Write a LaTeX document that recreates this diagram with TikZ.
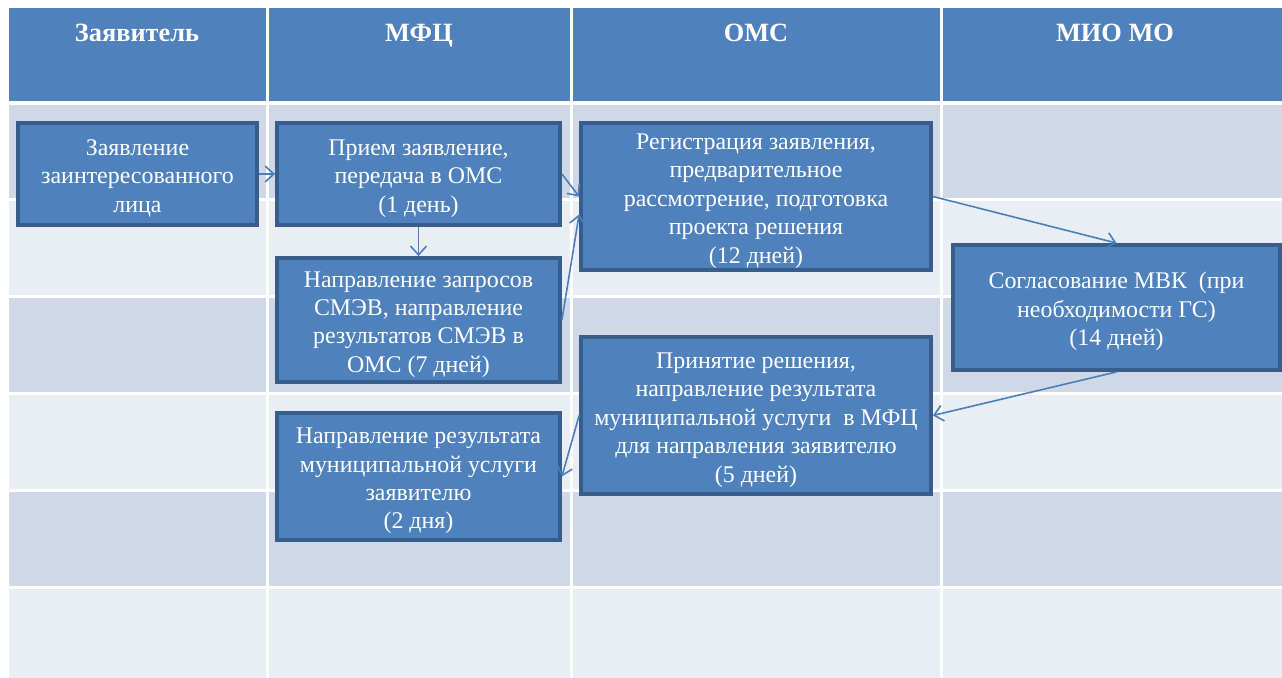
\documentclass[tikz,border=0pt]{standalone}
\usepackage{fontspec}
\setmainfont{Liberation Serif}
\usetikzlibrary{
    arrows.meta,
    positioning,
    calc
}
\definecolor{headcol}{HTML}{4F81BD}
\definecolor{darkrow}{HTML}{D0D8E8}
\definecolor{lightrow}{HTML}{E9EDF4}
\definecolor{stagecol}{HTML}{4F81BD}
\definecolor{stageline}{HTML}{385D8A}
\definecolor{arrcol}{HTML}{4A7EBB}
\newcommand{\firstline}{\rule{0pt}{14pt}}

\begin{document}
\begin{tikzpicture}[
    x=0.02cm, y=-0.02cm,
    % ── Node Styles ──
    stage/.style={
        draw=stageline, line width=2.2pt, fill=stagecol,
        text=white, align=center, inner xsep=2pt, inner ysep=0pt,
        font=\fontsize{13.6}{16.2}\selectfont
    },
    lane/.style={
        text=white, anchor=base, font=\bfseries\fontsize{15}{18}\selectfont
    },
    % ── Arrow Styles ──
    arr/.style={-{Straight Barb[length=5pt, width=9pt]}, arrcol, line width=0.9pt},
]
\useasboundingbox (0,0) rectangle (1282,678);

% ────────────────────────────────
%  TABLE
% ────────────────────────────────
\fill[white] (0,0) rectangle (1282,678);
\foreach \xl/\xr in {7/267, 267/571, 571/941, 941/1284}
    \fill[headcol] (\xl+1.5,8) rectangle (\xr-1.5,101);
\foreach \yt/\yb/\rowcol in {104/200/darkrow, 200/297/lightrow,
        297/394/darkrow, 394/491/lightrow, 491/588/darkrow, 588/682/lightrow}
    \foreach \xl/\xr in {7/267, 267/571, 571/941, 941/1284}
        \fill[\rowcol] (\xl+1.5,\yt+1.5) rectangle (\xr-1.5,\yb-1.5);

% Lane titles
\node[lane] (l_zv)  at (137,42)  {Заявитель};
\node[lane] (l_mfc) at (419,42)  {МФЦ};
\node[lane] (l_oms) at (756,42)  {ОМС};
\node[lane] (l_mio) at (1115,42) {МИО МО};

% ────────────────────────────────
%  STAGES
% ────────────────────────────────
\node[stage, minimum width=4.78cm, minimum height=2.04cm] (zv) at (137.5,174) {
    \firstline Заявление\\заинтересованного\\лица
};
\node[stage, minimum width=5.66cm, minimum height=2.04cm] (priem) at (418.5,174) {
    \firstline Прием заявление,\\передача в ОМС\\(1 день)
};
\node[stage, minimum width=5.66cm, minimum height=2.48cm] (smev) at (418.5,320) {
    \firstline Направление запросов\\СМЭВ, направление\\результатов СМЭВ в\\ОМС (7 дней)
};
\node[stage, minimum width=7.0cm, minimum height=2.94cm] (reg) at (756,196.5) {
    \firstline Регистрация заявления,\\предварительное\\рассмотрение, подготовка\\проекта решения\\(12 дней)
};
\node[stage, minimum width=6.54cm, minimum height=2.5cm] (mvk) at (1116.5,307.5) {
    \firstline Согласование МВК\ \ (при\\необходимости ГС)\\(14 дней)
};
\node[stage, minimum width=7.0cm, minimum height=3.14cm] (reshen) at (756,415.5) {
    \firstline Принятие решения,\\направление результата\\муниципальной услуги\ \ в МФЦ\\для направления заявителю\\(5 дней)
};
\node[stage, minimum width=5.66cm, minimum height=2.54cm] (itog) at (418.5,476.5) {
    \firstline Направление результата\\муниципальной услуги\\заявителю\\(2 дня)
};

% ────────────────────────────────
%  FLOW
% ────────────────────────────────
\draw[arr] (zv) -- (priem);
\draw[arr] (priem) -- (smev);
\draw[arr] (priem.east) -- (reg.west);
\draw[arr] (smev.east) -- ($(reg.west)+(0,18)$);
\draw[arr] (reg.east) -- (mvk.north);
\draw[arr] (mvk.south) -- (reshen.east);
\draw[arr] (reshen.west) -- (itog.east);

\end{tikzpicture}
\end{document}
